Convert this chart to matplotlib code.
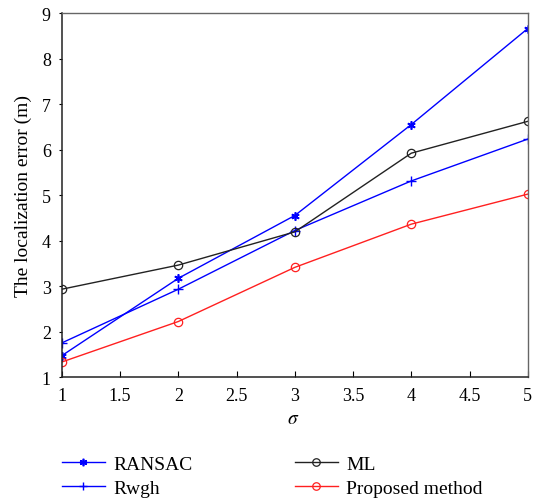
import matplotlib.pyplot as plt

plt.rcParams['font.family'] = ['Liberation Serif', 'DejaVu Serif']
plt.rcParams['mathtext.fontset'] = 'stix'

sigma = [1, 2, 3, 4, 5]
ransac = [1.47, 3.17, 4.55, 6.55, 8.66]
rwgh = [1.75, 2.93, 4.22, 5.31, 6.23]
ml = [2.93, 3.46, 4.19, 5.92, 6.62]
proposed = [1.33, 2.22, 3.41, 4.36, 5.02]

fig = plt.figure(figsize=(5.38, 5.02), dpi=100)
ax = fig.add_axes([0.115, 0.247, 0.866, 0.725])

ax.plot(sigma, ransac, color='#0000ff', lw=1, marker=(6, 2, 0), ms=6, mew=1.2, label='RANSAC')
ax.plot(sigma, rwgh, color='#0000ff', lw=1, marker='+', ms=7, mew=1, label='Rwgh')
ax.plot(sigma, ml, color='#222222', lw=1, marker='o', ms=6, mfc='none', mew=0.9, label='ML')
ax.plot(sigma, proposed, color='#ff2020', lw=1, marker='o', ms=6, mfc='none', mew=0.9, label='Proposed method')

ax.set_xlim(1, 5)
ax.set_ylim(1, 9)
ax.set_xticks([1, 1.5, 2, 2.5, 3, 3.5, 4, 4.5, 5])
ax.set_xticklabels(['1', '1.5', '2', '2.5', '3', '3.5', '4', '4.5', '5'])
ax.set_yticks(range(1, 10))
ax.tick_params(axis='x', direction='in', length=4, width=0.8, labelsize=13, pad=7)
ax.tick_params(axis='y', direction='out', length=2, width=0.8, labelsize=13, pad=6)
for s in ['left', 'bottom']:
    ax.spines[s].set_linewidth(1.1)
    ax.spines[s].set_color('#222222')
for s in ['top', 'right']:
    ax.spines[s].set_linewidth(1.0)
    ax.spines[s].set_color('#666666')

ax.set_xlabel(r'$\sigma$', fontsize=14)
ax.xaxis.set_label_coords(0.497, -0.09)
ax.set_ylabel('The localization error (m)', fontsize=14)
ax.yaxis.set_label_coords(-0.064, 0.5)

handles, labels = ax.get_legend_handles_labels()
fig.legend(handles, labels, ncol=2, loc='upper left',
           bbox_to_anchor=(0.097, 0.11), frameon=False, borderpad=0,
           fontsize=14, handlelength=2.2, columnspacing=5.25, labelspacing=0.3,
           handletextpad=0.45, markerscale=0.9)

fig.savefig('out.png', dpi=100)
